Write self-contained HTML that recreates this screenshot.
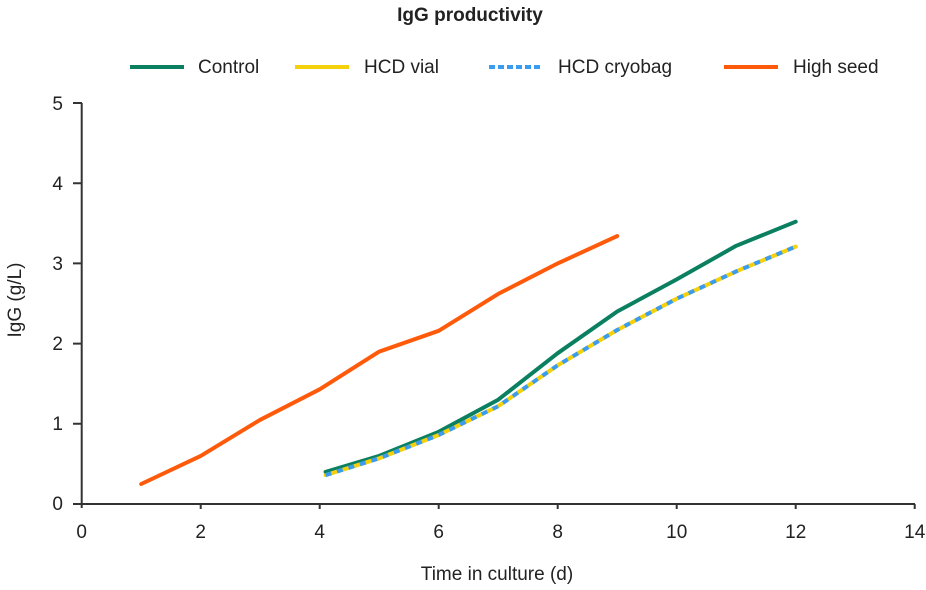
<!DOCTYPE html>
<html><head><meta charset="utf-8"><style>
body{margin:0;background:#fff;}
svg text{font-family:"Liberation Sans",sans-serif;fill:#222;}
</style></head><body>
<svg width="926" height="585" viewBox="0 0 926 585" xmlns="http://www.w3.org/2000/svg">
<text x="470" y="21" font-size="19" font-weight="bold" text-anchor="middle">IgG productivity</text>
<g font-size="19">
<line x1="130" y1="67" x2="184" y2="67" stroke="#0a8060" stroke-width="4"/>
<text x="198" y="73">Control</text>
<line x1="295" y1="67" x2="349" y2="67" stroke="#f5d10c" stroke-width="4"/>
<text x="364" y="73">HCD vial</text>
<line x1="489" y1="67" x2="543" y2="67" stroke="#3a9cf0" stroke-width="4" stroke-dasharray="6,3"/>
<text x="558" y="73">HCD cryobag</text>
<line x1="724" y1="67" x2="778" y2="67" stroke="#ff5a0a" stroke-width="4"/>
<text x="793" y="73">High seed</text>
</g>
<g stroke="#333" stroke-width="2" fill="none">
<line x1="81.7" y1="103" x2="81.7" y2="508"/>
<line x1="73" y1="504" x2="915" y2="504"/>
<path d="M73 103.0h9M73 183.2h9M73 263.4h9M73 343.6h9M73 423.8h9"/>
<path d="M200.7 504v5M319.7 504v5M438.7 504v5M557.7 504v5M676.7 504v5M795.7 504v5M914.7 504v5"/>
</g>
<g font-size="19" text-anchor="end">
<text x="63" y="110">5</text><text x="63" y="190">4</text><text x="63" y="270">3</text><text x="63" y="350">2</text><text x="63" y="430">1</text><text x="63" y="510">0</text>
</g>
<g font-size="19" text-anchor="middle">
<text x="81.7" y="538">0</text><text x="200.7" y="538">2</text><text x="319.7" y="538">4</text><text x="438.7" y="538">6</text><text x="557.7" y="538">8</text><text x="676.7" y="538">10</text><text x="795.7" y="538">12</text><text x="914.7" y="538">14</text>
<text x="497" y="580">Time in culture (d)</text>
<text transform="translate(21,300) rotate(-90)">IgG (g/L)</text>
</g>
<g fill="none" stroke-width="4" stroke-linejoin="round" stroke-linecap="round">
<polyline stroke="#ff5a0a" points="141.2,484 200.7,455.9 260.2,419.8 319.7,389.3 379.2,351.6 438.7,330.8 498.2,293.9 557.7,263.4 617.2,236.1"/>
<polyline stroke="#0a8060" points="325.6,471.9 379.2,455.9 438.7,431.8 498.2,399.7 557.7,353.2 617.2,311.5 676.7,279.4 736.2,245.8 795.7,221.7"/>
<polyline stroke="#f5d10c" points="325.6,475.1 379.2,458.3 438.7,435 498.2,406.2 557.7,365.3 617.2,330 676.7,298.7 736.2,271.4 795.7,246.6"/>
<polyline stroke="#3a9cf0" stroke-dasharray="6,6" stroke-linecap="butt" points="325.6,475.1 379.2,458.3 438.7,435 498.2,406.2 557.7,365.3 617.2,330 676.7,298.7 736.2,271.4 795.7,246.6"/>
</g>
</svg>
</body></html>
